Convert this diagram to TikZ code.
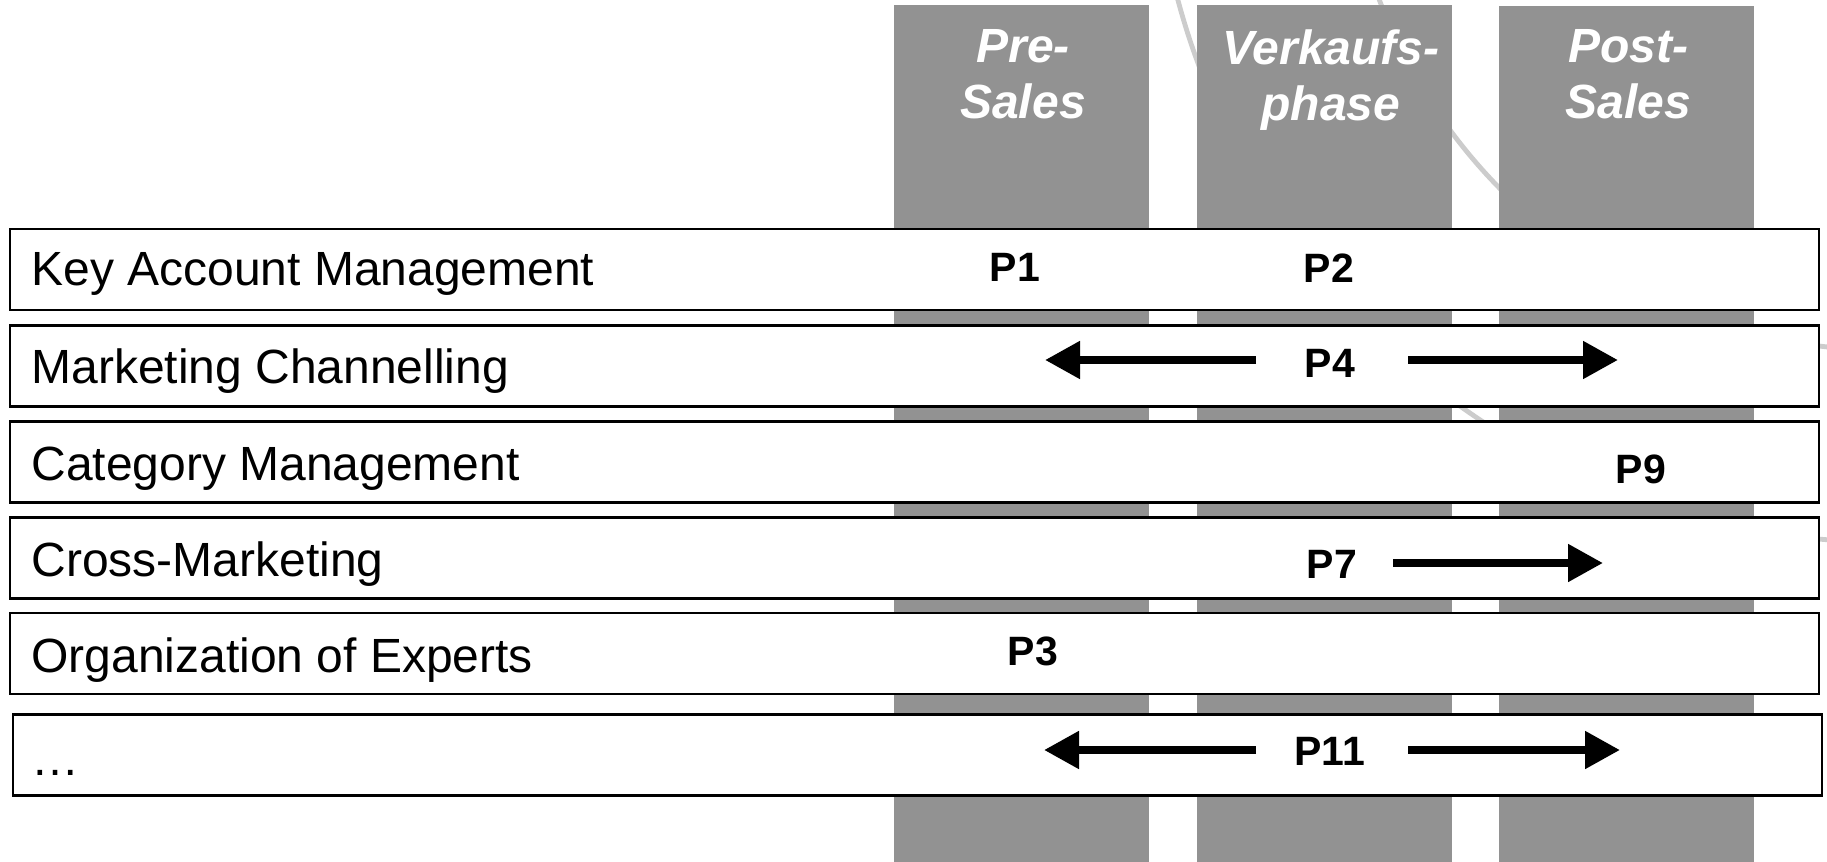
\documentclass[tikz,border=0pt]{standalone}
\usepackage{fontspec}
\setmainfont{Liberation Sans}
\usetikzlibrary{arrows.meta}
\definecolor{phasegray}{RGB}{146,146,146}
\definecolor{ringgray}{RGB}{204,204,204}
\begin{document}
\begin{tikzpicture}[x=0.5pt,y=-0.5pt,
  phasebox/.style={fill=phasegray, draw=none, inner sep=0pt,
    minimum width=127.5pt, minimum height=435pt},
  rowbox/.style={draw=black, fill=white, line width=1.2pt, inner sep=0pt,
    minimum width=904.5pt, minimum height=40.5pt},
  rowlabel/.style={anchor=base west, inner sep=0pt,
    font=\fontsize{24pt}{28pt}\selectfont},
  phaselabel/.style={anchor=north, inner sep=0pt, align=center, text=white,
    font=\fontsize{24pt}{28pt}\selectfont\bfseries\itshape},
  plabel/.style={anchor=base, inner sep=0pt,
    font=\fontsize{20.5pt}{24pt}\selectfont\bfseries},
  flow/.style={line width=4pt, -{Triangle[length=17.5pt,width=18pt]}},
  ring/.style={draw=ringgray, line width=2.4pt}
]
\useasboundingbox (0,0) rectangle (1827,862);
\clip (0,0) rectangle (1827,862);
\fill[white] (0,0) rectangle (1827,862);

% concentric rings in the background
\draw[ring] (1885,-190) circle[radius=540];
\draw[ring] (1885,-190) circle[radius=732];

% sales phases
\node[phasebox] (col1) at (1021.5,440) {};
\node[phasebox] (col2) at (1324.5,440) {};
\node[phasebox] (col3) at (1626,440.5) {};
\node[phaselabel] (lab1) at (1023,29) {Pre-\\Sales};
\node[phaselabel] (lab2) at (1331,29) {Verkaufs-\\phase};
\node[phaselabel] (lab3) at (1628,29) {Post-\\Sales};

% organisational units
\node[rowbox] (row1) at (914.5,269.5) {};
\node[rowbox] (row2) at (914.5,366) {};
\node[rowbox] (row3) at (914.5,462) {};
\node[rowbox] (row4) at (914.5,558) {};
\node[rowbox] (row5) at (914.5,653.5) {};
\node[rowbox] (row6) at (917.5,755) {};

\node[rowlabel] (t1) at (31,285) {Key Account Management};
\node[rowlabel] (t2) at (31,383) {Marketing Channelling};
\node[rowlabel] (t3) at (31,480) {Category Management};
\node[rowlabel] (t4) at (31,576) {Cross-Marketing};
\node[rowlabel] (t5) at (31,672) {Organization of Experts};
\node[rowlabel] (t6) at (31,775) {…};

% processes
\node[plabel] (p1) at (1015,281) {P1};
\node[plabel] (p2) at (1329,282) {P2};
\node[plabel] (p4) at (1330,377) {P4};
\node[plabel] (p9) at (1641,483) {P9};
\node[plabel] (p7) at (1332,578) {P7};
\node[plabel] (p3) at (1033,665) {P3};
\node[plabel] (p11) at (1329.5,765) {P11};

% extent of the processes
\coordinate (p4a) at (1256,360);
\coordinate (p4b) at (1045,360);
\coordinate (p4c) at (1408,360);
\coordinate (p4d) at (1618,360);
\coordinate (p7a) at (1393,563);
\coordinate (p7b) at (1603,563);
\coordinate (p11a) at (1256,750);
\coordinate (p11b) at (1044,750);
\coordinate (p11c) at (1408,750);
\coordinate (p11d) at (1620,750);

\draw[flow] (p4a) -- (p4b);
\draw[flow] (p4c) -- (p4d);
\draw[flow] (p7a) -- (p7b);
\draw[flow] (p11a) -- (p11b);
\draw[flow] (p11c) -- (p11d);
\end{tikzpicture}
\end{document}
